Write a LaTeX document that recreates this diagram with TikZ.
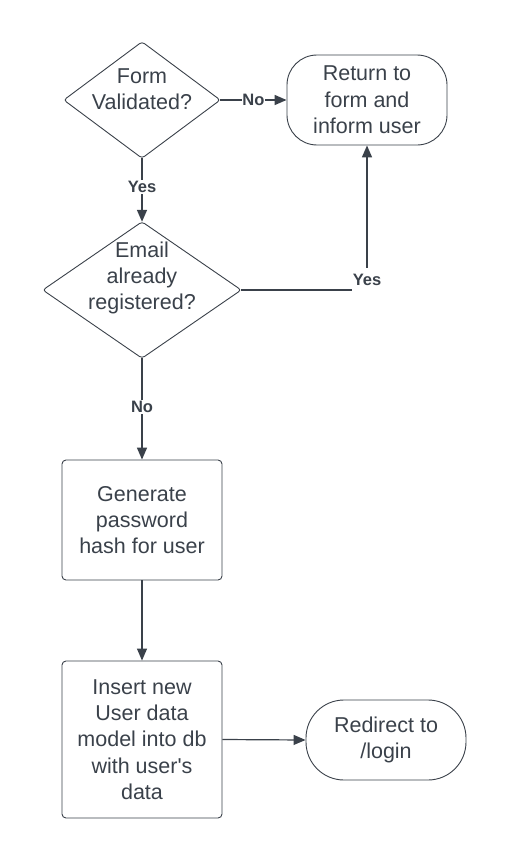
\documentclass[tikz,border=0pt]{standalone}
\usepackage{fontspec}
\setmainfont{Liberation Sans}[Ligatures=TeXOff]
\usetikzlibrary{arrows.meta}
\definecolor{ink}{RGB}{58,65,74}
\begin{document}
\begin{tikzpicture}[x=1pt,y=-1pt,
  every node/.style={text=ink},
  txt/.style={align=center,font=\fontsize{21.5}{26.3}\selectfont,inner sep=0pt},
  shapebox/.style={draw=ink,line width=0.9pt,inner sep=0pt},
  anchorbox/.style={inner sep=0pt,draw=none},
  lbl/.style={font=\fontsize{16.5}{18}\selectfont\bfseries,fill=white,inner xsep=0.5pt,inner ysep=1pt},
  conn/.style={draw=ink,line width=1.6pt,-{Triangle[length=12pt,width=10pt]}},
  connthin/.style={draw=ink,line width=1.2pt,-{Triangle[length=12pt,width=10pt]}},
]
\useasboundingbox (0,0) rectangle (506,859);

% decision 1
\node[anchorbox,minimum width=156pt,minimum height=116pt] (d1) at (142,100) {};
\draw[shapebox,rounded corners=3pt] (d1.north) -- (d1.east) -- (d1.south) -- (d1.west) -- cycle;
\node[txt] (d1t) at (142,89) {Form\\Validated?};

% decision 2
\node[anchorbox,minimum width=198pt,minimum height=136pt] (d2) at (142,290) {};
\draw[shapebox,rounded corners=3pt] (d2.north) -- (d2.east) -- (d2.south) -- (d2.west) -- cycle;
\node[txt] (d2t) at (142,278) {Email\\already\\registered?};

% terminals
\node[shapebox,txt,draw=ink,line width=0.9pt,minimum width=160pt,minimum height=90pt,rounded corners=30pt] (ret) at (367,100) {Return to\\form and\\inform user};
\node[shapebox,txt,draw=ink,line width=0.9pt,minimum width=160pt,minimum height=80pt,rounded corners=38pt] (red) at (386,740) {Redirect to\\/login};

% processes
\node[shapebox,txt,draw=ink,line width=0.9pt,minimum width=160pt,minimum height=120pt,rounded corners=4pt] (gen) at (142,520) {Generate\\password\\hash for user};
\node[shapebox,txt,draw=ink,line width=0.9pt,minimum width=160pt,minimum height=157pt,rounded corners=4pt] (ins) at (142,739.5) {Insert new\\User data\\model into db\\with user's\\data};

% connectors
\draw[conn] (d1.east) -- (ret.west) node[lbl,midway] (lno1) {No};
\draw[conn] (d1.south) -- (d2.north) node[lbl,pos=0.45] (lyes1) {Yes};
\draw[conn] (d2.east) -| (ret.south) node[lbl,pos=0.5,yshift=10pt,minimum height=24pt] (lyes2) {Yes};
\draw[conn] (d2.south) -- (gen.north) node[lbl,pos=0.48] (lno2) {No};
\draw[connthin] (gen.south) -- (ins.north);
\draw[connthin] (ins.east) -- (red.west);
\end{tikzpicture}
\end{document}
